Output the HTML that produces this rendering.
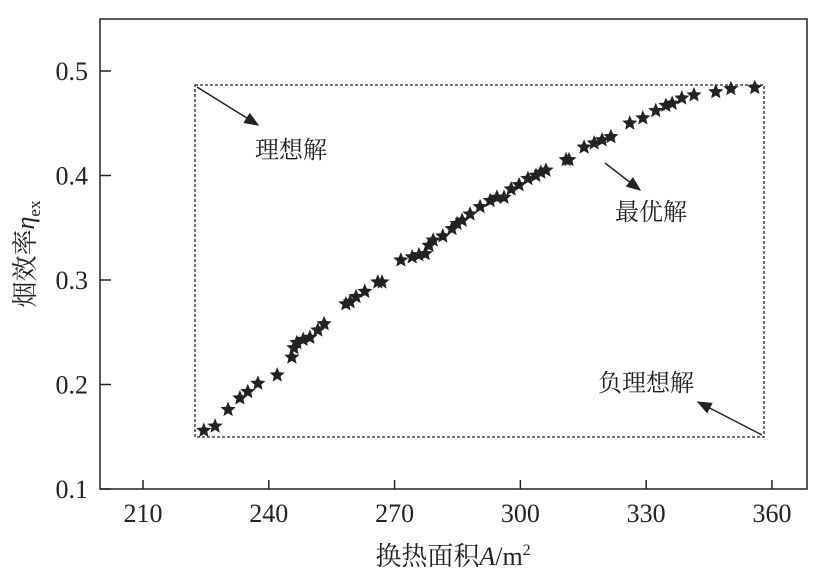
<!DOCTYPE html>
<html><head><meta charset="utf-8"><style>
html,body{margin:0;padding:0;background:#fff;width:814px;height:585px;overflow:hidden}
svg{display:block}
text{font-family:"Liberation Serif","Noto Serif CJK SC",serif;fill:#222}
</style></head><body>
<svg id="chart" width="814" height="585" viewBox="0 0 814 585">
<defs><marker id="ah" markerWidth="10" markerHeight="8" refX="9" refY="4" orient="auto"><path d="M0,0 L10,4 L0,8 Z" fill="#222"/></marker></defs>
<rect x="100" y="19" width="707" height="470" fill="none" stroke="#222" stroke-width="1.5"/>
<g id="xt"></g><g id="yt"></g>
<rect x="195" y="85" width="569" height="352" fill="none" stroke="#222" stroke-width="1.3" stroke-dasharray="3,2"/>
<g id="pts"></g>
<line x1="197" y1="87" x2="258" y2="125" stroke="#222" stroke-width="1.5" marker-end="url(#ah)"/>
<text x="255" y="158" font-size="24">理想解</text>
<line x1="605" y1="163" x2="640" y2="190" stroke="#222" stroke-width="1.5" marker-end="url(#ah)"/>
<text x="615" y="220" font-size="24">最优解</text>
<line x1="762" y1="435" x2="698" y2="402" stroke="#222" stroke-width="1.5" marker-end="url(#ah)"/>
<text x="598" y="391" font-size="24">负理想解</text>
<text x="453" y="565" font-size="26" text-anchor="middle">换热面积<tspan font-style="italic">A</tspan>/m<tspan font-size="16" dy="-10">2</tspan></text>
<text transform="translate(34,254) rotate(-90)" font-size="26" text-anchor="middle">烟效率<tspan font-style="italic">η</tspan><tspan font-size="17" dy="6">ex</tspan></text>
</svg>
<script>
const xTicks=[210,240,270,300,330,360];
const yTicks=[0.1,0.2,0.3,0.4,0.5];
const areaVals=[224.5,227.2,230.3,233.1,235.0,237.4,242.0,245.5,246.0,246.7,248.2,249.8,251.7,253.2,258.4,259.4,260.8,262.9,266.0,267.0,271.5,274.2,275.8,277.3,278.2,279.2,281.5,283.7,284.9,286.1,288.0,290.4,292.8,294.4,296.1,297.8,299.7,301.8,303.7,304.9,306.1,310.9,311.6,315.2,317.6,319.5,321.6,326.1,329.2,332.3,334.7,336.2,338.5,341.4,346.6,350.2,355.9];
const effVals=[.156,.160,.176,.187,.193,.201,.209,.226,.235,.240,.243,.245,.252,.258,.277,.279,.284,.289,.298,.298,.319,.322,.324,.325,.333,.338,.342,.349,.354,.357,.363,.370,.376,.379,.379,.387,.391,.397,.400,.403,.405,.415,.415,.427,.431,.434,.437,.450,.455,.462,.467,.469,.474,.477,.480,.483,.484];
const X=v=>143+(v-210)*4.193;
const Y=v=>489-(v-0.1)*1045;
const NS="http://www.w3.org/2000/svg";
function mk(t,a,p){const e=document.createElementNS(NS,t);for(const k in a)e.setAttribute(k,a[k]);p.appendChild(e);return e;}
const xt=document.getElementById('xt'),yt=document.getElementById('yt'),pts=document.getElementById('pts');
xTicks.forEach(v=>{
 const l=mk('line',{x1:X(v),x2:X(v),y1:489,y2:480,stroke:'#222','stroke-width':1.5},xt);
 
 
 const t=mk('text',{x:X(v),y:522,'font-size':26,'text-anchor':'middle'},xt);t.textContent=v;
 
 
});
yTicks.forEach(v=>{
 const l=mk('line',{x1:100,x2:111,y1:Y(v),y2:Y(v),stroke:'#222','stroke-width':1.5},yt);
 
 
 const t=mk('text',{x:88,y:Y(v)+9,'font-size':26,'text-anchor':'end'},yt);t.textContent=v.toFixed(1);
 
 
});
function star(cx,cy,r){let d='';for(let i=0;i<10;i++){const a=-Math.PI/2+i*Math.PI/5;const rr=i%2?r*0.45:r;d+=(i?'L':'M')+(cx+rr*Math.cos(a)).toFixed(1)+','+(cy+rr*Math.sin(a)).toFixed(1);}return d+'Z';}
areaVals.forEach((v,i)=>{
 const p=mk('path',{d:star(X(v),Y(effVals[i]),8),fill:'#222'},pts);
 
 
});
</script>
</body></html>
